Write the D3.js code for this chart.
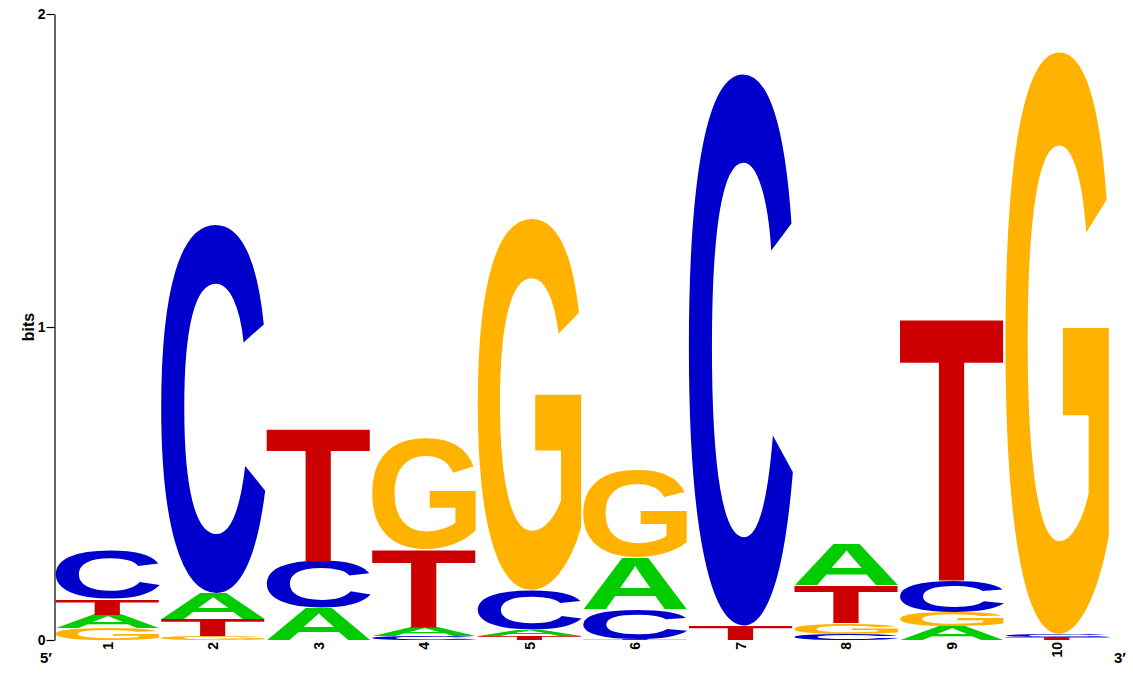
<!DOCTYPE html>
<html>
<head>
<meta charset="utf-8">
<script src="https://cdn.jsdelivr.net/npm/d3@7"></script>
<style>
  html, body { margin: 0; padding: 0; background: #fff; }
  svg { display: block; }
</style>
</head>
<body>
<div class="logo"></div>
<script>
// positions along the motif and information (bits) per base
const positions = ["1", "2", "3", "4", "5", "6", "7", "8", "9", "10"];
const bases = ["A", "C", "G", "T"];
const bitsA = [0.043, 0.083, 0.102, 0.030, 0.019, 0.166, 0, 0.133, 0.043, 0];
const bitsC = [0.155, 1.179, 0.150, 0.013, 0.128, 0.096, 1.765, 0.019, 0.102, 0.010];
const bitsG = [0.038, 0.014, 0, 0.355, 1.188, 0.278, 0, 0.035, 0.045, 1.863];
const bitsT = [0.050, 0.053, 0.425, 0.248, 0.013, 0.003, 0.046, 0.121, 0.839, 0.009];
const yTicks = [0, 1, 2];

const colors = { A: "#00cc00", C: "#0000cc", G: "#ffb300", T: "#cc0000" };
const font = "'Liberation Sans', Arial, Helvetica, sans-serif";

const width = 1133, height = 680;
const svg = d3.select(".logo").append("svg")
    .attr("width", width)
    .attr("height", height);

const x = d3.scaleBand().domain(positions).range([55.5, 1109.5]).paddingInner(0.013);
const y = d3.scaleLinear().domain([0, 2]).range([640, 14]);

// tight glyph bounds, measured on a canvas so letters can be stretched to fill their box
const ctx = document.createElement("canvas").getContext("2d");
const fs = 200;
ctx.font = `bold ${fs}px ${font}`;
const box = {};
bases.forEach(b => {
    const m = ctx.measureText(b);
    box[b] = { l: m.actualBoundingBoxLeft, r: m.actualBoundingBoxRight,
               a: m.actualBoundingBoxAscent, d: m.actualBoundingBoxDescent };
});

const table = { A: bitsA, C: bitsC, G: bitsG, T: bitsT };
const stacks = positions.map((p, i) => {
    const col = bases.map(b => ({ base: b, bits: table[b][i] }))
        .sort((a, b) => a.bits - b.bits);
    let acc = 0;
    col.forEach(d => { d.y0 = acc; acc += d.bits; d.y1 = acc; d.pos = p; });
    return col;
});

const letters = svg.append("g");
stacks.forEach(col => {
    letters.selectAll(null)
        .data(col.filter(d => d.bits > 0))
        .join("text")
        .text(d => d.base)
        .attr("font-family", font)
        .attr("font-weight", "bold")
        .attr("font-size", fs)
        .attr("fill", d => colors[d.base])
        .attr("transform", d => {
            const g = box[d.base];
            const x0 = x(d.pos), w = x.bandwidth();
            const top = y(d.y1), h = y(d.y0) - y(d.y1);
            const sx = w / (g.l + g.r), sy = h / (g.a + g.d);
            return `translate(${x0},${top}) scale(${sx},${sy}) translate(${g.l},${g.a})`;
        });
});

// y axis
const yAxis = svg.append("g")
    .attr("transform", "translate(54.5,0)")
    .call(d3.axisLeft(y).tickValues(yTicks).tickFormat(d3.format("d"))
        .tickSize(8).tickSizeOuter(0).tickPadding(1));
yAxis.select(".domain").attr("stroke", "#000").attr("stroke-width", 1.2);
yAxis.selectAll(".tick line").attr("stroke", "#000").attr("stroke-width", 1.2);
yAxis.selectAll(".tick text")
    .attr("font-family", font).attr("font-weight", "bold")
    .attr("font-size", 14).attr("fill", "#000");

svg.append("text")
    .attr("transform", `translate(34,${y(1)}) rotate(-90)`)
    .attr("text-anchor", "middle")
    .attr("font-family", font).attr("font-weight", "bold").attr("font-size", 16)
    .text("bits");

// position labels under each stack
svg.append("g").selectAll("text")
    .data(positions)
    .join("text")
    .attr("transform", d => `translate(${x(d) + x.bandwidth() / 2},642) rotate(-90)`)
    .attr("text-anchor", "end")
    .attr("dy", "0.36em")
    .attr("font-family", font).attr("font-weight", "bold").attr("font-size", 14)
    .text(d => d);

svg.append("text")
    .attr("x", 40).attr("y", 663)
    .attr("font-family", font).attr("font-weight", "bold").attr("font-size", 15)
    .text("5\u2032");
svg.append("text")
    .attr("x", 1114).attr("y", 663)
    .attr("font-family", font).attr("font-weight", "bold").attr("font-size", 15)
    .text("3\u2032");
</script>
</body>
</html>
